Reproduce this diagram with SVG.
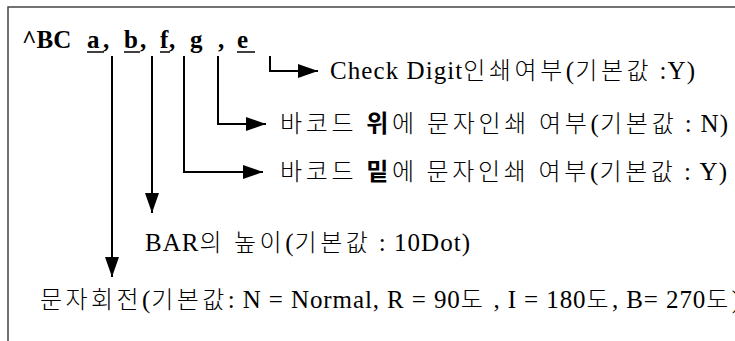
<svg xmlns="http://www.w3.org/2000/svg" width="735" height="341" viewBox="0 0 735 341">
<style>
.t{font-family:"Liberation Serif","Noto Sans CJK KR",serif;font-size:25px;fill:#000}
.k{font-family:"Noto Sans CJK KR","Liberation Serif",sans-serif;font-size:24px;letter-spacing:2.5px;font-weight:300}
.b{font-weight:bold}
.ttl{font-family:"Liberation Serif",serif;font-size:25px;font-weight:bold;fill:#000}
.ln{stroke:#000;stroke-width:2;fill:none}
.ul{stroke:#000;stroke-width:1.5}
</style>
<defs>
<marker id="ah" markerUnits="userSpaceOnUse" markerWidth="20" markerHeight="14" refX="20" refY="7" orient="auto">
<path d="M0,0 L20,7 L0,14 Z" fill="#000"/>
</marker>
</defs>
<g id="frame">
<path d="M8,341 V7 H735" stroke="#444" stroke-width="1.5" fill="none"/>
</g>
<g id="command">
<text class="ttl" y="48"><tspan x="22">^BC</tspan><tspan x="87">a</tspan><tspan x="103">,</tspan><tspan x="124">b</tspan><tspan x="140">,</tspan><tspan x="160">f</tspan><tspan x="169">,</tspan><tspan x="190">g</tspan><tspan x="218">,</tspan><tspan x="237">e</tspan></text>
<line class="ul" x1="87" y1="52" x2="104" y2="52"/>
<line class="ul" x1="124" y1="52" x2="140" y2="52"/>
<line class="ul" x1="160" y1="52" x2="170" y2="52"/>
<line class="ul" x1="237" y1="52" x2="255" y2="52"/>
</g>
<g id="connectors">
<path class="ln" d="M270,56 V71 H318" marker-end="url(#ah)"/>
<path class="ln" d="M218,56 V124 H266" marker-end="url(#ah)"/>
<path class="ln" d="M184,56 V172 H263" marker-end="url(#ah)"/>
<path class="ln" d="M152,56 V213" marker-end="url(#ah)"/>
<path class="ln" d="M112,56 V277" marker-end="url(#ah)"/>
</g>
<g id="check-digit">
<text class="t" x="330" y="79" textLength="365" lengthAdjust="spacing">Check Digit<tspan class="k">인쇄여부</tspan>(<tspan class="k">기본값</tspan> :Y)</text>
</g>
<g id="above">
<text class="t" x="280" y="132" textLength="448" lengthAdjust="spacing"><tspan class="k">바코드 </tspan><tspan class="k b">위</tspan><tspan class="k">에 문자인쇄 여부</tspan>(<tspan class="k">기본값</tspan> : N)</text>
</g>
<g id="below">
<text class="t" x="280" y="180" textLength="447" lengthAdjust="spacing"><tspan class="k">바코드 </tspan><tspan class="k b">밑</tspan><tspan class="k">에 문자인쇄 여부</tspan>(<tspan class="k">기본값</tspan> : Y)</text>
</g>
<g id="bar-height">
<text class="t" x="145" y="251" textLength="325" lengthAdjust="spacing">BAR<tspan class="k">의 높이</tspan>(<tspan class="k">기본값</tspan> : 10Dot)</text>
</g>
<g id="rotation">
<text class="t" x="40" y="308" textLength="700" lengthAdjust="spacing"><tspan class="k">문자회전</tspan>(<tspan class="k">기본값</tspan>: N = Normal, R = 90<tspan class="k">도</tspan> , I = 180<tspan class="k">도</tspan>, B= 270<tspan class="k">도</tspan>)</text>
</g>
</svg>
